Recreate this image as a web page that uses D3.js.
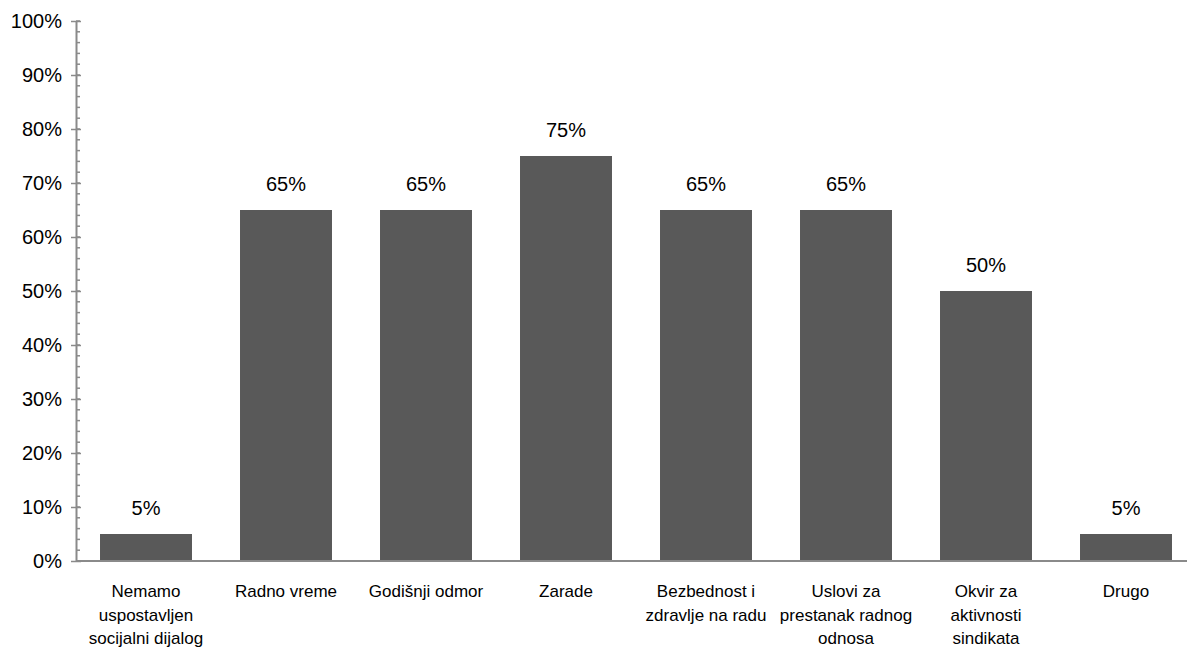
<!DOCTYPE html>
<html>
<head>
<meta charset="utf-8">
<script src="https://cdn.jsdelivr.net/npm/d3@7"></script>
<style>
  html, body { margin: 0; padding: 0; background: #fff; }
  svg { display: block; font-family: "Liberation Sans", Arial, sans-serif; }
</style>
</head>
<body>
<svg id="chart" width="1187" height="651"></svg>
<script>
// Topics covered by social dialogue (share of respondents)
const categories = [
  ["Nemamo", "uspostavljen", "socijalni dijalog"],
  ["Radno vreme"],
  ["Godišnji odmor"],
  ["Zarade"],
  ["Bezbednost i", "zdravlje na radu"],
  ["Uslovi za", "prestanak radnog", "odnosa"],
  ["Okvir za", "aktivnosti", "sindikata"],
  ["Drugo"]
];
const values = [5, 65, 65, 75, 65, 65, 50, 5];
const yTicks = [0, 10, 20, 30, 40, 50, 60, 70, 80, 90, 100];
const yMinorTicks = d3.range(0, 101, 2);

const svg = d3.select("#chart");
const axisColor = "#8a8a8a";
const barColor = "#595959";

const x = d3.scaleBand()
  .domain(d3.range(categories.length))
  .range([76, 1196])
  .paddingInner(0.343)
  .paddingOuter(0.1715);

const y = d3.scaleLinear().domain([0, 100]).range([561, 21]);

// minor ticks on the right side of the value axis
svg.append("g").selectAll("line")
  .data(yMinorTicks)
  .join("line")
  .attr("x1", 76).attr("x2", 80)
  .attr("y1", d => y(d)).attr("y2", d => y(d))
  .attr("stroke", axisColor).attr("stroke-width", 1.5);

// value axis with major ticks crossing the line
const yAxis = d3.axisLeft(y)
  .tickValues(yTicks)
  .tickFormat(d => d + "%")
  .tickSize(0)
  .tickPadding(14);
const gy = svg.append("g").attr("transform", "translate(76,0)").call(yAxis);
gy.select(".domain").attr("stroke", axisColor).attr("stroke-width", 2);
gy.selectAll(".tick line").remove();
gy.selectAll(".tick").append("line")
  .attr("x1", -5).attr("x2", 5)
  .attr("stroke", axisColor).attr("stroke-width", 1.5);
gy.selectAll(".tick text")
  .attr("font-size", 20).attr("fill", "#000")
  .attr("font-family", "Liberation Sans, Arial, sans-serif");

// bars
svg.append("g").selectAll("rect")
  .data(values)
  .join("rect")
  .attr("x", (d, i) => x(i))
  .attr("width", x.bandwidth())
  .attr("y", d => y(d))
  .attr("height", d => y(0) - y(d))
  .attr("fill", barColor);

// category axis baseline
svg.append("line")
  .attr("x1", 76).attr("x2", 1196)
  .attr("y1", y(0)).attr("y2", y(0))
  .attr("stroke", axisColor).attr("stroke-width", 2);

// value labels above bars
svg.append("g").selectAll("text")
  .data(values)
  .join("text")
  .attr("x", (d, i) => x(i) + x.bandwidth() / 2)
  .attr("y", d => y(d) - 19.5)
  .attr("text-anchor", "middle")
  .attr("font-size", 20)
  .attr("fill", "#000")
  .text(d => d + "%");

// category labels, possibly wrapped over several lines
const catG = svg.append("g").selectAll("text")
  .data(categories)
  .join("text")
  .attr("x", (d, i) => x(i) + x.bandwidth() / 2)
  .attr("y", 597)
  .attr("text-anchor", "middle")
  .attr("font-size", 17)
  .attr("fill", "#000");
catG.each(function(lines, i) {
  const t = d3.select(this);
  lines.forEach((ln, k) => {
    t.append("tspan")
      .attr("x", x(i) + x.bandwidth() / 2)
      .attr("dy", k === 0 ? 0 : 23.5)
      .text(ln);
  });
});
</script>
</body>
</html>
